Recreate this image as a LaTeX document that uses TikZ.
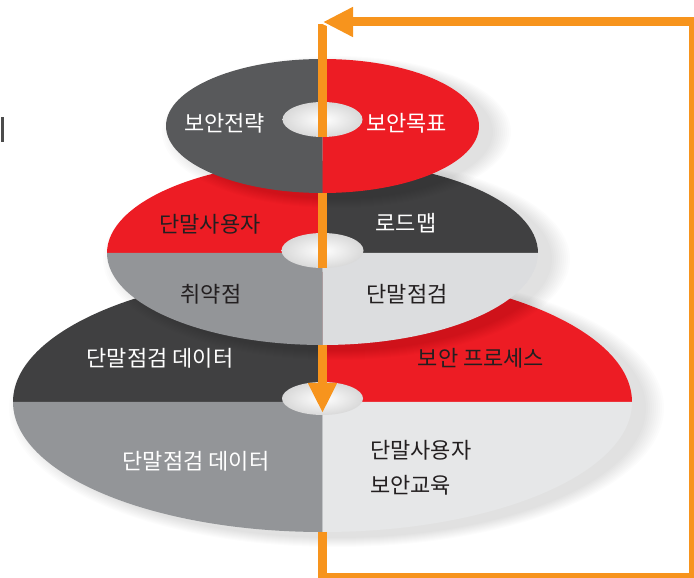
\documentclass[tikz,border=0pt]{standalone}
\usepackage{fontspec}
\newfontfamily\kr{Noto Sans CJK KR}
\usetikzlibrary{arrows.meta}
\definecolor{discred}{HTML}{ED1C24}
\definecolor{discgrey}{HTML}{58595B}
\definecolor{discdark}{HTML}{404041}
\definecolor{discmid}{HTML}{939598}
\definecolor{disclight}{HTML}{DCDDDF}
\definecolor{disclighter}{HTML}{E6E7E8}
\definecolor{looporange}{HTML}{F7941D}
\definecolor{ink}{HTML}{231F20}
% one quarter of a disc: centre, x radius, y radius, start angle, colour
\newcommand{\discpart}[5]{\fill[#5] (#1) -- ++(#4:#2 and #3) arc[start angle=#4, delta angle=90, x radius=#2, y radius=#3] -- cycle;}
% soft shadow down to the right of a disc
\newcommand{\discshadow}[3]{\foreach \k in {0,...,9} \fill[black, opacity=0.013] ([shift={(14,-6)}]#1) ellipse [x radius=#2+2*\k, y radius=#3+\k];}
\begin{document}
\begin{tikzpicture}[x=1pt, y=1pt,
	lbl/.style={font=\kr\fontsize{22}{35}\selectfont, text=white, inner sep=0pt},
	lbldark/.style={lbl, text=ink},
	hole/.style={inner color=white, outer color=black!15},
	loopline/.style={draw=looporange, line width=9}]
	\useasboundingbox (0,0) rectangle (694,578);
	\coordinate (topc) at (322.5,452);
	\coordinate (toph) at (322.5,458.5);
	\coordinate (midc) at (322.5,325);
	\coordinate (midh) at (322.5,327.5);
	\coordinate (botc) at (322.5,176);
	\coordinate (both) at (322.5,179.5);
	\coordinate (linetop) at (322.5,554);
	\coordinate (looptip) at (323,556);
	\fill[black!70] (1,436) rectangle (3.5,461);
	% bottom disc
	\discshadow{botc}{309.5}{130}
	\discpart{botc}{309.5}{130}{90}{discdark}
	\discpart{botc}{309.5}{130}{0}{discred}
	\discpart{botc}{309.5}{130}{180}{discmid}
	\discpart{botc}{309.5}{130}{270}{disclighter}
	\shade[hole] (both) ellipse [x radius=40.5, y radius=16.5];
	% middle disc
	\discshadow{midc}{215.5}{92}
	\discpart{midc}{215.5}{92}{90}{discred}
	\discpart{midc}{215.5}{92}{0}{discdark}
	\discpart{midc}{215.5}{92}{180}{discmid}
	\discpart{midc}{215.5}{92}{270}{disclight}
	\shade[hole] (midh) ellipse [x radius=41, y radius=17.5];
	% top disc
	\discshadow{topc}{156.5}{67}
	\discpart{topc}{156.5}{67}{90}{discgrey}
	\discpart{topc}{156.5}{67}{180}{discgrey}
	\discpart{topc}{156.5}{67}{0}{discred}
	\discpart{topc}{156.5}{67}{270}{discred}
	\shade[hole] (toph) ellipse [x radius=40, y radius=17.5];
	% line through the holes
	\draw[loopline] (linetop) -- ([yshift=-17.5]toph);
	\draw[loopline] ([yshift=-67]topc) -- ([yshift=-17.5]midh);
	\draw[loopline, -{Triangle[length=30pt, width=27pt]}] ([yshift=-92]midc) -- ([yshift=-14.5]both);
	% feedback loop
	\draw[white, line width=4] (looptip) -- ++(30,-14);
	\draw[loopline, -{Triangle[length=30pt, width=28pt]}] ([yshift=-130]botc) |- (693.5,0.5) |- (looptip);
	% labels
	\node[lbl] (strategy) at (224.5,455) {보안전략};
	\node[lbl] (goal) at (406.5,455) {보안목표};
	\node[lbldark] (users) at (210,354) {단말사용자};
	\node[lbl] (roadmap) at (406,355) {로드맵};
	\node[lbldark] (weak) at (211,284) {취약점};
	\node[lbldark] (check) at (407,284) {단말점검};
	\node[lbl] (datatop) at (160,220) {단말점검 데이터};
	\node[lbldark] (process) at (481,220) {보안 프로세스};
	\node[lbl] (databot) at (196,117) {단말점검 데이터};
	\node[lbldark, anchor=west, align=left] (training) at (370,110) {단말사용자\\보안교육};
\end{tikzpicture}
\end{document}
